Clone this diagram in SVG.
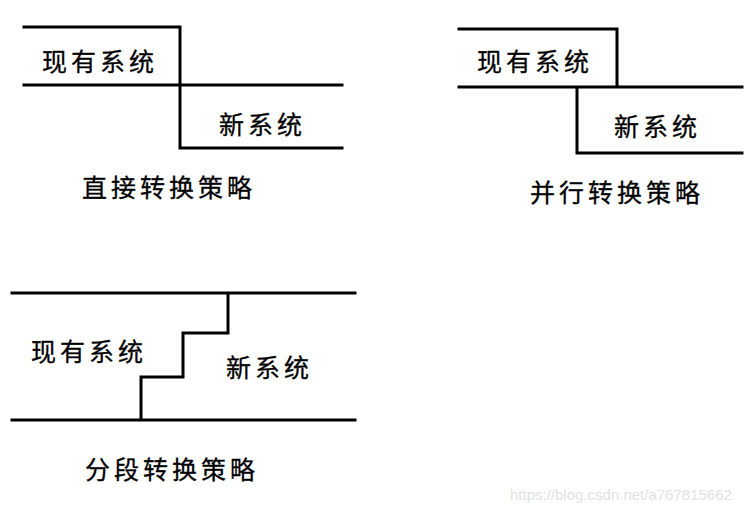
<svg xmlns="http://www.w3.org/2000/svg" width="755" height="514" viewBox="0 0 755 514">
<style>
.ln{fill:none;stroke:#000;stroke-width:3;stroke-linecap:square;stroke-linejoin:miter}
.t{font-family:"Noto Sans CJK SC","Noto Sans CJK JP",sans-serif;font-size:25px;fill:#000;stroke:#000;stroke-width:0.3;letter-spacing:4px}
.wm{font-family:"Liberation Sans",Arial,sans-serif;font-size:15px;fill:#e2e2e2}
</style>
<rect width="755" height="514" fill="#fff"/>
<g id="connectors">
<path class="ln" d="M24,27 H180 V85 M24,85 H342 M180,85 V148 H342"/>
<path class="ln" d="M459,29 H617 V87 M459,87 H742 M577,87 V153 H742"/>
<path class="ln" d="M12,293 H355 M12,420 H355 M228,293 V333 H183 V377 H141 V420"/>
</g>
<g id="direct">
<text class="t" x="42" y="71">现有系统</text>
<text class="t" x="219" y="134">新系统</text>
<text class="t" x="82" y="197">直接转换策略</text>
</g>
<g id="parallel">
<text class="t" x="477" y="71">现有系统</text>
<text class="t" x="614" y="136">新系统</text>
<text class="t" x="530" y="202">并行转换策略</text>
</g>
<g id="phased">
<text class="t" x="31" y="361">现有系统</text>
<text class="t" x="226" y="377">新系统</text>
<text class="t" x="85" y="479">分段转换策略</text>
</g>
<text class="wm" x="510" y="500">https://blog.csdn.net/a767815662</text>
</svg>
